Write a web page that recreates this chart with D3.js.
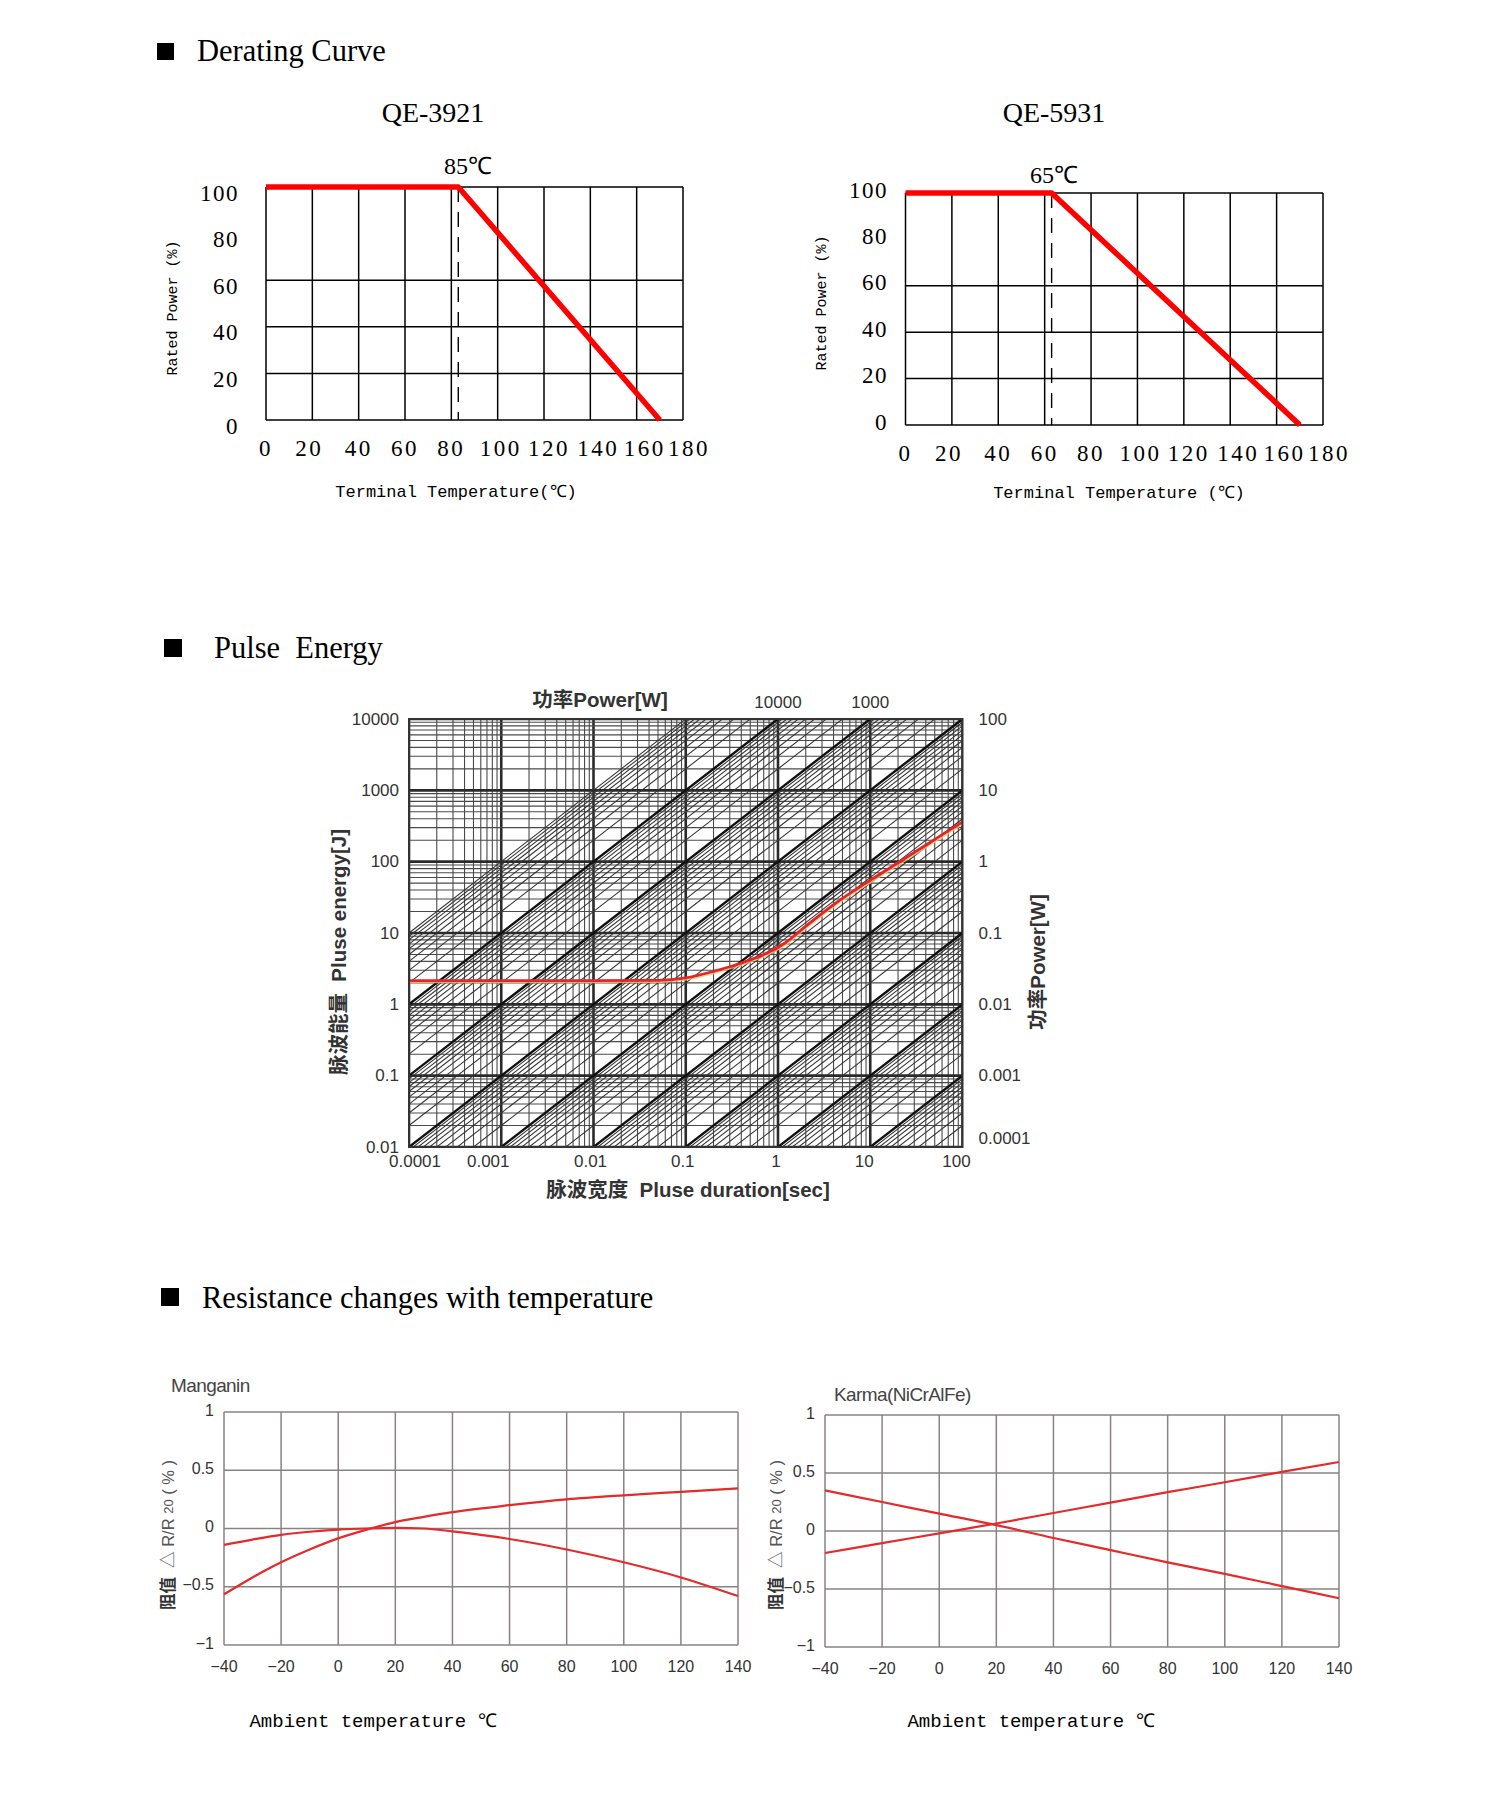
<!DOCTYPE html>
<html><head><meta charset="utf-8">
<script src="https://cdn.jsdelivr.net/npm/d3@7"></script>
<style>body{margin:0;background:#fff}svg{display:block}</style>
</head><body>
<script>
// ================= DATA =================
// Derating curves
const derateTempTicks = [0, 20, 40, 60, 80, 100, 120, 140, 160, 180];
const deratePowerTicks = [0, 20, 40, 60, 80, 100];
const deratePowerGrid = [0, 20, 40, 60, 100];
const qe3921Temp = [0, 83, 170];
const qe3921Power = [100, 100, 0];
const qe3921Knee = 83;
const qe3921KneeLabel = "85℃";
const qe5931Temp = [0, 63, 170];
const qe5931Power = [100, 100, 0];
const qe5931Knee = 63;
const qe5931KneeLabel = "65℃";

// Pulse energy chart
const pulseDurationTicks = [0.0001, 0.001, 0.01, 0.1, 1, 10, 100];
const pulseDurationLabels = ["0.0001", "0.001", "0.01", "0.1", "1", "10", "100"];
const pulseEnergyTicks = [0.01, 0.1, 1, 10, 100, 1000, 10000];
const pulseEnergyLabels = ["0.01", "0.1", "1", "10", "100", "1000", "10000"];
const powerRightTicks = [100, 10, 1, 0.1, 0.01, 0.001, 0.0001];
const powerRightLabels = ["100", "10", "1", "0.1", "0.01", "0.001", "0.0001"];
const powerTopTicks = [10000, 1000];
const powerTopLabels = ["10000", "1000"];
const pulseCurveDuration = [0.0001, 0.001, 0.01, 0.05, 0.1, 0.2, 0.4, 0.75, 1.2, 2, 4, 10, 23, 50, 100];
const pulseCurveEnergy   = [2.15, 2.15, 2.15, 2.17, 2.35, 2.9, 3.8, 5.2, 7.3, 12.5, 25, 55, 108, 205, 360];

// Resistance vs temperature
const tempTicks = [-40, -20, 0, 20, 40, 60, 80, 100, 120, 140];
const tempLabels = ["−40", "−20", "0", "20", "40", "60", "80", "100", "120", "140"];
const drTicks = [-1, -0.5, 0, 0.5, 1];
const drLabels = ["−1", "−0.5", "0", "0.5", "1"];
const manganinTemp = [-40, -30, -20, -10, 0, 10, 20, 30, 40, 60, 80, 100, 120, 140];
const manganinRise = [-0.565, -0.42, -0.29, -0.18, -0.085, -0.01, 0.055, 0.10, 0.14, 0.2, 0.25, 0.285, 0.315, 0.345];
const manganinFall = [-0.14, -0.095, -0.055, -0.028, -0.01, 0.0, 0.005, 0.0, -0.025, -0.09, -0.18, -0.29, -0.42, -0.58];
const karmaTemp = [-40, -20, 0, 20, 40, 60, 80, 100, 120, 140];
const karmaRise = [-0.19, -0.105, -0.02, 0.065, 0.155, 0.245, 0.335, 0.42, 0.51, 0.595];
const karmaFall = [0.35, 0.25, 0.15, 0.05, -0.06, -0.165, -0.27, -0.37, -0.475, -0.58];

// ================= DRAW =================
const W = 1500, H = 1797;
const svg = d3.select("body").append("svg").attr("width", W).attr("height", H)
  .style("background", "#fff");

const SERIF = "'Liberation Serif','Times New Roman',serif";
const MONO = "'Liberation Mono','DejaVu Sans Mono',monospace";
const SANS = "'Liberation Sans',Arial,'Noto Sans CJK SC',sans-serif";

// Section headers
function header(x, y, size, tx, ty, text) {
  svg.append("rect").attr("x", x).attr("y", y).attr("width", size).attr("height", size).attr("fill", "#000");
  svg.append("text").attr("x", tx).attr("y", ty).attr("font-family", SERIF).attr("font-size", 30.5)
    .style("white-space", "pre").attr("fill", "#000").text(text);
}
header(157, 43, 17, 197, 61, "Derating Curve");
header(164, 639, 18, 214, 658, "Pulse  Energy");
header(161, 1288, 18, 202, 1308, "Resistance changes with temperature");

// ---------- Derating charts ----------
const derateXLabelNudge = [0, -3, 0, 0, 0, 3, 5, 8, 8, 6];
function derating(cfg) {
  const x = d3.scaleLinear().domain([0, 180]).range([cfg.left, cfg.left + cfg.width]);
  const y = d3.scaleLinear().domain([0, 100]).range([cfg.top + cfg.height, cfg.top]);
  const g = svg.append("g");
  g.selectAll(".vg").data(derateTempTicks).join("line")
    .attr("x1", d => x(d)).attr("x2", d => x(d)).attr("y1", y(0)).attr("y2", y(100))
    .attr("stroke", "#000").attr("stroke-width", 1.5);
  g.selectAll(".hg").data(deratePowerGrid).join("line")
    .attr("x1", x(0)).attr("x2", x(180)).attr("y1", d => y(d)).attr("y2", d => y(d))
    .attr("stroke", "#000").attr("stroke-width", 1.5);
  g.append("line").attr("x1", x(cfg.knee)).attr("x2", x(cfg.knee)).attr("y1", y(100)).attr("y2", y(0))
    .attr("stroke", "#000").attr("stroke-width", 1.4).attr("stroke-dasharray", "15,10");
  const line = d3.line().x(d => x(d[0])).y(d => y(d[1]));
  g.append("path").datum(cfg.temp.map((t, i) => [t, cfg.power[i]]))
    .attr("d", line).attr("fill", "none").attr("stroke", "#ff0000").attr("stroke-width", 5.5)
    .attr("stroke-linejoin", "round");
  g.selectAll(".yl").data(deratePowerTicks).join("text")
    .attr("x", cfg.yLabelX).attr("y", d => y(d) + cfg.yLabelShift)
    .attr("text-anchor", "end").attr("dominant-baseline", "central")
    .attr("font-family", SERIF).attr("font-size", 23).attr("letter-spacing", 1.5).text(d => d);
  g.selectAll(".xl").data(derateTempTicks).join("text")
    .attr("x", (d, i) => x(d) + derateXLabelNudge[i]).attr("y", y(0) + 28)
    .attr("text-anchor", "middle").attr("dominant-baseline", "central")
    .attr("font-family", SERIF).attr("font-size", 23).attr("letter-spacing", 2.5).text(d => d);
  g.append("text").attr("x", cfg.titleX).attr("y", 112).attr("text-anchor", "middle")
    .attr("dominant-baseline", "central").attr("font-family", SERIF).attr("font-size", 28).text(cfg.title);
  g.append("text").attr("x", cfg.kneeLabelX).attr("y", cfg.kneeLabelY).attr("text-anchor", "middle")
    .attr("dominant-baseline", "central").attr("font-family", SERIF).attr("font-size", 24).text(cfg.kneeLabel);
  g.append("text").attr("transform", `translate(${cfg.yTitleX},${cfg.yTitleY}) rotate(-90)`)
    .attr("text-anchor", "middle").attr("dominant-baseline", "central")
    .attr("font-family", MONO).attr("font-size", 15).text("Rated Power (%)");
  g.append("text").attr("x", cfg.xTitleX).attr("y", cfg.xTitleY).attr("text-anchor", "middle")
    .attr("dominant-baseline", "central").style("white-space", "pre")
    .attr("font-family", MONO).attr("font-size", 17).text(cfg.xTitle);
}
derating({left: 266, top: 187, width: 417, height: 233, knee: qe3921Knee,
  temp: qe3921Temp, power: qe3921Power, yLabelX: 239, yLabelShift: 6,
  title: "QE-3921", titleX: 433, kneeLabel: qe3921KneeLabel, kneeLabelX: 468, kneeLabelY: 166,
  yTitleX: 173, yTitleY: 308, xTitle: "Terminal Temperature(℃)", xTitleX: 456, xTitleY: 492});
derating({left: 905.5, top: 193, width: 417.5, height: 232, knee: qe5931Knee,
  temp: qe5931Temp, power: qe5931Power, yLabelX: 888, yLabelShift: -3,
  title: "QE-5931", titleX: 1054, kneeLabel: qe5931KneeLabel, kneeLabelX: 1054, kneeLabelY: 175,
  yTitleX: 822, yTitleY: 303, xTitle: "Terminal Temperature (℃)", xTitleX: 1119, xTitleY: 493});

// ---------- Pulse energy chart ----------
(function () {
  const L = 409, R = 962.5, T = 719, B = 1147;
  const x = d3.scaleLog().domain([1e-4, 100]).range([L, R]);
  const y = d3.scaleLog().domain([0.01, 1e4]).range([B, T]);
  const g = svg.append("g");
  svg.append("defs").append("clipPath").attr("id", "pclip")
    .append("rect").attr("x", L).attr("y", T).attr("width", R - L).attr("height", B - T);
  const gc = g.append("g").attr("clip-path", "url(#pclip)");

  const vLines = [];
  for (let k = -4; k <= 1; k++) for (let m = 1; m <= 9; m++) vLines.push({v: m * Math.pow(10, k), major: m === 1});
  vLines.push({v: 100, major: true});
  const hLines = [];
  for (let k = -2; k <= 3; k++) for (let m = 1; m <= 9; m++) hLines.push({v: m * Math.pow(10, k), major: m === 1});
  hLines.push({v: 1e4, major: true});
  const dLines = [];
  for (let k = -4; k <= 4; k++) for (let m = 1; m <= 9; m++) dLines.push({p: m * Math.pow(10, k), major: m === 1});
  dLines.push({p: 1e5, major: false});

  gc.selectAll(".pv").data(vLines).join("line")
    .attr("x1", d => x(d.v)).attr("x2", d => x(d.v)).attr("y1", T).attr("y2", B)
    .attr("stroke", d => d.major ? "#2a2a2a" : "#4a4a4a").attr("stroke-width", d => d.major ? 2.6 : 1.1);
  gc.selectAll(".ph").data(hLines).join("line")
    .attr("x1", L).attr("x2", R).attr("y1", d => y(d.v)).attr("y2", d => y(d.v))
    .attr("stroke", d => d.major ? "#2a2a2a" : "#4a4a4a").attr("stroke-width", d => d.major ? 2.6 : 1.1);
  gc.selectAll(".pd").data(dLines).join("line")
    .attr("x1", x(1e-4)).attr("y1", d => y(d.p * 1e-4))
    .attr("x2", x(100)).attr("y2", d => y(d.p * 100))
    .attr("stroke", d => d.major ? "#111" : "#333").attr("stroke-width", d => d.major ? 2.4 : 1.05);
  g.append("rect").attr("x", L).attr("y", T).attr("width", R - L).attr("height", B - T)
    .attr("fill", "none").attr("stroke", "#333").attr("stroke-width", 2);

  const pts = pulseCurveDuration.map((t, i) => [t, pulseCurveEnergy[i]]);
  const line = d3.line().x(d => x(d[0])).y(d => y(d[1])).curve(d3.curveMonotoneX);
  gc.append("path").datum(pts).attr("d", line).attr("fill", "none")
    .attr("stroke", "#f3c46a").attr("stroke-width", 1.6).attr("opacity", 0.8).attr("transform", "translate(1,1.8)");
  gc.append("path").datum(pts).attr("d", line).attr("fill", "none")
    .attr("stroke", "#e3262b").attr("stroke-width", 2.8);

  const tickFont = {"font-family": SANS, "font-size": 17, "fill": "#333"};
  const applyFont = (sel, f) => { for (const k in f) sel.attr(k, f[k]); return sel; };
  applyFont(g.selectAll(".pel").data(pulseEnergyTicks).join("text")
    .attr("x", L - 10).attr("y", d => y(d)).attr("text-anchor", "end").attr("dominant-baseline", "central")
    .text((d, i) => pulseEnergyLabels[i]), tickFont);
  const bottomNudge = [6, -13, -3, -3, -2, -6, -6];
  applyFont(g.selectAll(".pdl").data(pulseDurationTicks).join("text")
    .attr("x", (d, i) => x(d) + bottomNudge[i]).attr("y", B + 14).attr("text-anchor", "middle")
    .attr("dominant-baseline", "central").text((d, i) => pulseDurationLabels[i]), tickFont);
  applyFont(g.selectAll(".prl").data(powerRightTicks).join("text")
    .attr("x", R + 16).attr("y", d => Math.min(y(d * 100), B - 9)).attr("dominant-baseline", "central")
    .text((d, i) => powerRightLabels[i]), tickFont);
  applyFont(g.selectAll(".ptl").data(powerTopTicks).join("text")
    .attr("x", d => x(1e4 / d)).attr("y", T - 17).attr("text-anchor", "middle")
    .attr("dominant-baseline", "central").text((d, i) => powerTopLabels[i]), tickFont);

  const titleFont = {"font-family": SANS, "font-size": 20.5, "font-weight": "bold", "fill": "#333"};
  applyFont(g.append("text").attr("x", 600).attr("y", 699).attr("text-anchor", "middle")
    .attr("dominant-baseline", "central").text("功率Power[W]"), titleFont);
  applyFont(g.append("text").attr("x", 688).attr("y", 1189).attr("text-anchor", "middle")
    .attr("dominant-baseline", "central").style("white-space", "pre").text("脉波宽度  Pluse duration[sec]"), titleFont);
  applyFont(g.append("text").attr("transform", "translate(338,952) rotate(-90)").attr("text-anchor", "middle")
    .attr("dominant-baseline", "central").style("white-space", "pre").text("脉波能量  Pluse energy[J]"), titleFont);
  applyFont(g.append("text").attr("transform", "translate(1037,962) rotate(-90)").attr("text-anchor", "middle")
    .attr("dominant-baseline", "central").text("功率Power[W]"), titleFont);
})();

// ---------- Resistance charts ----------
function resChart(cfg) {
  const x = d3.scaleLinear().domain([-40, 140]).range([cfg.left, cfg.left + cfg.width]);
  const y = d3.scaleLinear().domain([-1, 1]).range([cfg.top + cfg.height, cfg.top]);
  const g = svg.append("g");
  g.selectAll(".rv").data(tempTicks).join("line")
    .attr("x1", d => x(d)).attr("x2", d => x(d)).attr("y1", y(-1)).attr("y2", y(1))
    .attr("stroke", "#8a8282").attr("stroke-width", 1.5);
  g.selectAll(".rh").data(drTicks).join("line")
    .attr("x1", x(-40)).attr("x2", x(140)).attr("y1", d => y(d)).attr("y2", d => y(d))
    .attr("stroke", "#8a8282").attr("stroke-width", 1.5);
  const line = d3.line().x(d => x(d[0])).y(d => y(d[1])).curve(d3.curveMonotoneX);
  cfg.series.forEach(s => {
    g.append("path").datum(cfg.temp.map((t, i) => [t, s[i]])).attr("d", line)
      .attr("fill", "none").attr("stroke", "#e42a2a").attr("stroke-width", 2.2);
  });
  g.selectAll(".ryl").data(drTicks).join("text")
    .attr("x", cfg.left - 10).attr("y", d => y(d) - 2).attr("text-anchor", "end")
    .attr("dominant-baseline", "central").attr("font-family", SANS).attr("font-size", 16)
    .attr("fill", "#333").text((d, i) => drLabels[i]);
  g.selectAll(".rxl").data(tempTicks).join("text")
    .attr("x", d => x(d)).attr("y", y(-1) + 21).attr("text-anchor", "middle")
    .attr("dominant-baseline", "central").attr("font-family", SANS).attr("font-size", 16)
    .attr("fill", "#333").text((d, i) => tempLabels[i]);
  g.append("text").attr("x", cfg.titleX).attr("y", cfg.titleY).attr("font-family", SANS)
    .attr("font-size", 19).attr("letter-spacing", -0.6).attr("fill", "#444").text(cfg.title);
  const yt = g.append("text").attr("transform", `translate(${cfg.yTitleX},1535) rotate(-90)`)
    .attr("text-anchor", "middle").attr("dominant-baseline", "central")
    .attr("font-family", SANS).attr("font-size", 16.5).attr("fill", "#555").style("white-space", "pre");
  yt.append("tspan").attr("font-weight", "bold").attr("fill", "#333").text("阻值");
  yt.append("tspan").text("  △ R/R ");
  yt.append("tspan").attr("font-size", 13).text("20");
  yt.append("tspan").text(" ( % )");
  g.append("text").attr("x", cfg.xTitleX).attr("y", 1722).attr("text-anchor", "middle")
    .attr("dominant-baseline", "central").attr("font-family", MONO).attr("font-size", 19)
    .style("white-space", "pre").text("Ambient temperature ℃");
}
resChart({left: 224, top: 1412, width: 514, height: 233, temp: manganinTemp,
  series: [manganinRise, manganinFall], title: "Manganin", titleX: 171, titleY: 1392,
  yTitleX: 168, xTitleX: 373});
resChart({left: 825, top: 1415, width: 514, height: 232, temp: karmaTemp,
  series: [karmaRise, karmaFall], title: "Karma(NiCrAlFe)", titleX: 834, titleY: 1401,
  yTitleX: 776, xTitleX: 1031});
</script>
</body></html>
